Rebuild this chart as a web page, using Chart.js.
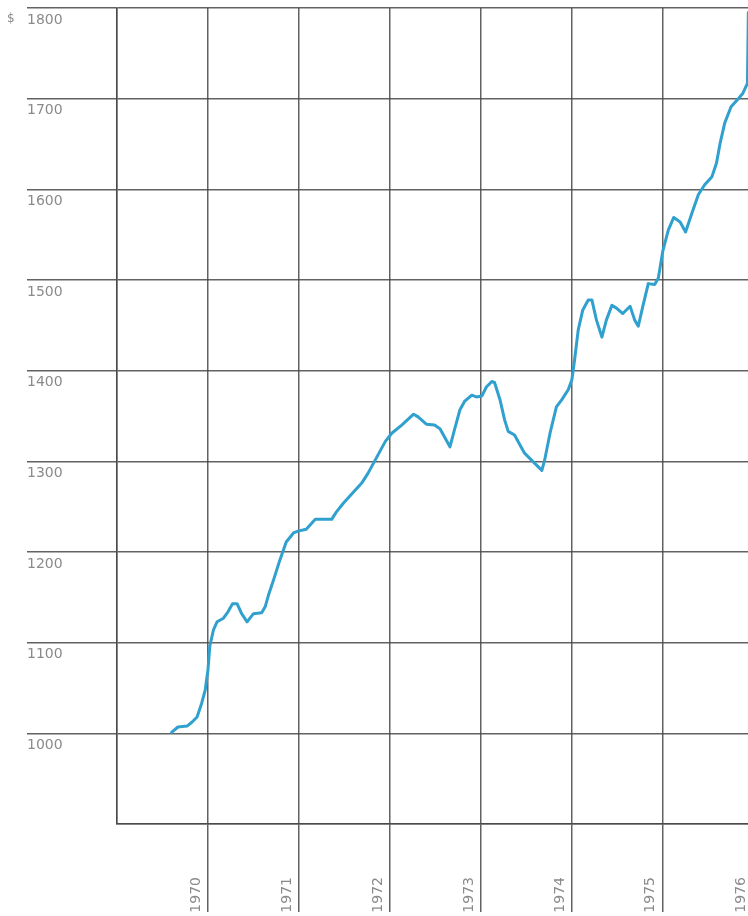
<!DOCTYPE html>
<html>
<head>
<meta charset="utf-8">
<script src="https://cdn.jsdelivr.net/npm/chart.js@4/dist/chart.umd.min.js"></script>
<style>
  html, body { margin: 0; padding: 0; background: #fff; overflow: hidden; width: 748px; height: 916px; }
  #wrap { position: relative; width: 748px; height: 916px; overflow: hidden; }
  #c { position: absolute; left: 0; top: 0; display: block; }
  #unit { position: absolute; left: 7px; top: 11px; font: 12px "DejaVu Sans", sans-serif; color: #8a8a8a; }
</style>
</head>
<body>
<div id="wrap">
  <canvas id="c" width="772" height="916"></canvas>
  <div id="unit">$</div>
</div>
<script>
// ---- data ----
const years = [
  1969.60, 1969.67, 1969.77, 1969.82, 1969.88, 1969.93, 1969.97, 1970.00, 1970.02, 1970.06,
  1970.10, 1970.17, 1970.22, 1970.27, 1970.32, 1970.37, 1970.43, 1970.50, 1970.59, 1970.63,
  1970.67, 1970.72, 1970.79, 1970.86, 1970.94, 1970.99, 1971.08, 1971.18, 1971.25, 1971.36,
  1971.41, 1971.49, 1971.58, 1971.69, 1971.76, 1971.82, 1971.89, 1971.95, 1972.02, 1972.13,
  1972.26, 1972.31, 1972.40, 1972.49, 1972.55, 1972.66, 1972.71, 1972.77, 1972.82, 1972.90,
  1972.95, 1973.01, 1973.06, 1973.12, 1973.15, 1973.21, 1973.26, 1973.30, 1973.37, 1973.43,
  1973.48, 1973.57, 1973.67, 1973.70, 1973.76, 1973.83, 1973.89, 1973.96, 1974.00, 1974.03,
  1974.07, 1974.12, 1974.18, 1974.22, 1974.27, 1974.33, 1974.38, 1974.44, 1974.49, 1974.56,
  1974.64, 1974.69, 1974.73, 1974.78, 1974.84, 1974.91, 1974.95, 1975.00, 1975.06, 1975.12,
  1975.19, 1975.25, 1975.32, 1975.39, 1975.46, 1975.54, 1975.59, 1975.63, 1975.68, 1975.75,
  1975.83, 1975.88, 1975.93, 1975.94
];
const values = [
  1001, 1007, 1008, 1012, 1018, 1033, 1048, 1070, 1096, 1114,
  1123, 1127, 1134, 1143, 1143, 1132, 1123, 1132, 1133, 1140,
  1154, 1169, 1191, 1211, 1221, 1223, 1225, 1236, 1236, 1236,
  1244, 1254, 1264, 1276, 1287, 1298, 1311, 1322, 1331, 1340,
  1352, 1349, 1341, 1340, 1336, 1316, 1335, 1357, 1366, 1373,
  1371, 1372, 1382, 1388, 1387, 1368, 1346, 1333, 1329, 1318,
  1309, 1300, 1290, 1301, 1331, 1360, 1368, 1379, 1390, 1412,
  1445, 1467, 1478, 1478, 1456, 1437, 1456, 1472, 1469, 1463,
  1471, 1456, 1449, 1471, 1496, 1495, 1502, 1532, 1555, 1569,
  1564, 1553, 1574, 1594, 1605, 1614, 1629, 1651, 1673, 1691,
  1700, 1706, 1717, 1795
];
const yearTicks = [1969, 1970, 1971, 1972, 1973, 1974, 1975, 1976];
const valueTicks = [900, 1000, 1100, 1200, 1300, 1400, 1500, 1600, 1700, 1800];

const gridColor = 'rgba(70,70,70,0.85)';
const labelColor = '#8a8a8a';
const labelFont = { family: 'DejaVu Sans', size: 14 };

new Chart(document.getElementById('c'), {
  type: 'line',
  data: {
    datasets: [{
      data: years.map((x, i) => ({ x: x, y: values[i] })),
      borderColor: '#30a0cf',
      borderWidth: 3,
      pointRadius: 0,
      tension: 0,
      borderJoinStyle: 'round',
      borderCapStyle: 'round',
      fill: false
    }]
  },
  options: {
    responsive: false,
    animation: false,
    events: [],
    layout: { padding: { top: 8, left: 27, right: 0, bottom: 0 } },
    plugins: { legend: { display: false }, tooltip: { enabled: false }, title: { display: false } },
    scales: {
      x: {
        type: 'linear',
        min: 1969,
        max: 1976.2,
        afterBuildTicks: (s) => { s.ticks = yearTicks.map(v => ({ value: v })); },
        afterFit: (s) => { s.height = 92; s.paddingLeft = 0; s.paddingRight = 0; },
        border: { display: true, color: gridColor, width: 1.5 },
        grid: {
          color: gridColor,
          lineWidth: 1.5,
          drawTicks: true,
          tickLength: 88,
          tickColor: (ctx) => (ctx.tick && ctx.tick.value === 1969) ? 'rgba(0,0,0,0)' : gridColor,
          tickWidth: 1.5
        },
        ticks: {
          autoSkip: false,
          minRotation: 90,
          maxRotation: 90,
          padding: -35,
          labelOffset: -12,
          color: labelColor,
          font: labelFont,
          callback: (v) => v === 1969 ? '' : String(v)
        }
      },
      y: {
        type: 'linear',
        min: 900,
        max: 1800,
        afterBuildTicks: (s) => { s.ticks = valueTicks.map(v => ({ value: v })); },
        afterFit: (s) => { s.width = 90; s.paddingTop = 0; s.paddingBottom = 0; },
        border: { display: true, color: gridColor, width: 1.5 },
        grid: {
          color: gridColor,
          lineWidth: 1.5,
          drawTicks: true,
          tickLength: 90,
          tickColor: (ctx) => (ctx.tick && ctx.tick.value === 900) ? 'rgba(0,0,0,0)' : gridColor,
          tickWidth: 1.5
        },
        ticks: {
          crossAlign: 'far',
          labelOffset: 12,
          padding: 0,
          color: labelColor,
          font: labelFont,
          callback: (v) => v === 900 ? '' : String(v)
        }
      }
    }
  }
});
</script>
</body>
</html>
